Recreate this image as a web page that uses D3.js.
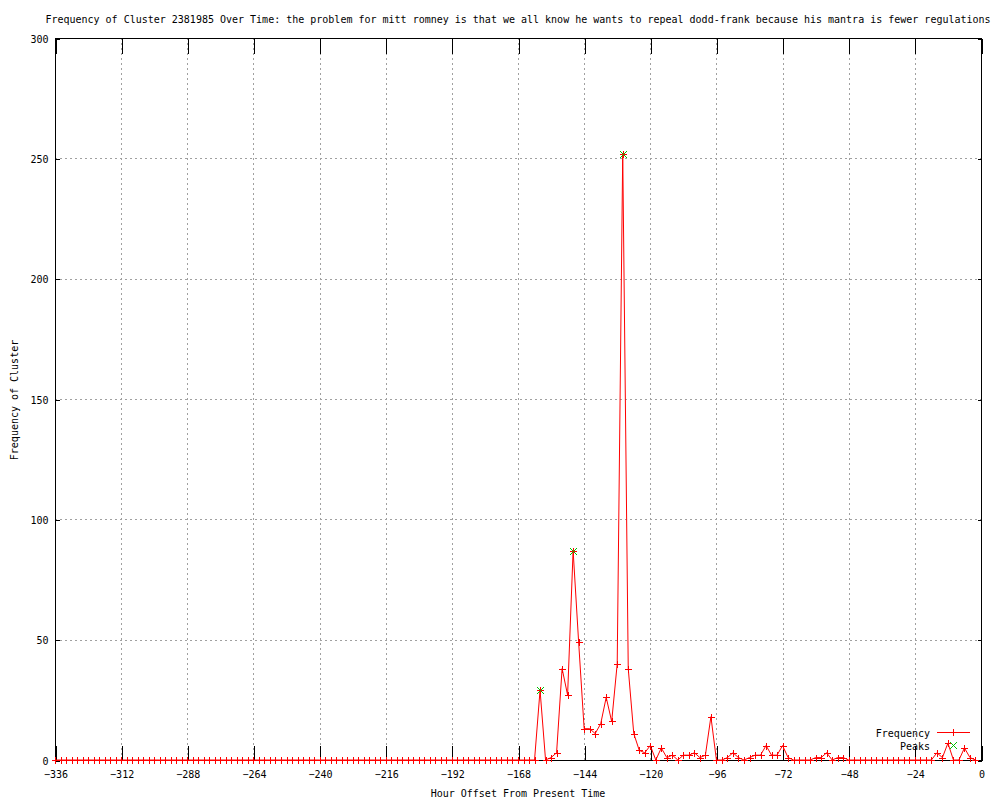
<!DOCTYPE html>
<html>
<head>
<meta charset="utf-8">
<script src="https://cdn.jsdelivr.net/npm/d3@7"></script>
<style>
  html, body { margin: 0; padding: 0; background: #fff; }
  svg { display: block; }
  text { font-family: "DejaVu Sans Mono", "Liberation Mono", monospace; font-size: 10px; fill: #000; }
</style>
</head>
<body>
<svg id="chart" width="1000" height="800"></svg>
<script>
const titleText = "Frequency of Cluster 2381985 Over Time: the problem for mitt romney is that we all know he wants to repeal dodd-frank because his mantra is fewer regulations";
const xAxisTitle = "Hour Offset From Present Time";
const yAxisTitle = "Frequency of Cluster";
const seriesNames = ["Frequency", "Peaks"];

// x ticks and y ticks
const xTicks = [-336, -312, -288, -264, -240, -216, -192, -168, -144, -120, -96, -72, -48, -24, 0];
const yTicks = [0, 50, 100, 150, 200, 250, 300];

// hour offsets (every 2 hours)
const hours = d3.range(-336, 0, 2);

// frequency values, one per hour offset above (-336 ... -2)
const frequency = [
  0,0,0,0,0,0,0,0,0,0,   // -336 .. -318
  0,0,0,0,0,0,0,0,0,0,   // -316 .. -298
  0,0,0,0,0,0,0,0,0,0,   // -296 .. -278
  0,0,0,0,0,0,0,0,0,0,   // -276 .. -258
  0,0,0,0,0,0,0,0,0,0,   // -256 .. -238
  0,0,0,0,0,0,0,0,0,0,   // -236 .. -218
  0,0,0,0,0,0,0,0,0,0,   // -216 .. -198
  0,0,0,0,0,0,0,0,0,0,   // -196 .. -178
  0,0,0,0,0,0,0,0,       // -176 .. -162
  29,0,1,3,38,27,87,49,13,13,   // -160 .. -142
  11,15,26,16,40,252,38,11,4,3, // -140 .. -122
  6,0,5,1,2,0,2,2,3,1,          // -120 .. -102
  2,18,0,0,1,3,1,0,1,2,         // -100 .. -82
  2,6,2,2,6,1,0,0,0,0,          // -80 .. -62
  1,1,3,0,1,1,0,0,0,0,          // -60 .. -42
  0,0,0,0,0,0,0,0,0,0,          // -40 .. -22
  0,0,3,1,7,0,0,5,1,0           // -20 .. -2
];

// detected peaks
const peakHours = [-160, -148, -130];
const peakValues = [29, 87, 252];

const svg = d3.select("#chart");
const L = 55, R = 981, T = 38, B = 760;

const x = d3.scaleLinear().domain([-336, 0]).range([L, R]);
const y = d3.scaleLinear().domain([0, 300]).range([B, T]);

const px = v => Math.round(v) + 0.5;

// grid
const grid = svg.append("g").attr("shape-rendering", "crispEdges")
  .attr("stroke", "#a0a0a0").attr("stroke-dasharray", "2,3").attr("stroke-width", 1);
grid.selectAll("line.gx").data(xTicks.slice(1, -1)).enter().append("line")
  .attr("x1", d => px(x(d))).attr("x2", d => px(x(d)))
  .attr("y1", T).attr("y2", B);
grid.selectAll("line.gy").data(yTicks.slice(1, -1)).enter().append("line")
  .attr("x1", L).attr("x2", R)
  .attr("y1", d => px(y(d))).attr("y2", d => px(y(d)));

// axes using d3 axis generators (inner ticks)
const xAxisBottom = d3.axisBottom(x).tickValues(xTicks).tickSizeInner(-15).tickSizeOuter(0).tickFormat(d3.format("d"));
const xAxisTop = d3.axisTop(x).tickValues(xTicks).tickSizeInner(-15).tickSizeOuter(0).tickFormat("");
const yAxisLeft = d3.axisLeft(y).tickValues(yTicks).tickSizeInner(-4).tickSizeOuter(0).tickFormat(d3.format("d"));
const yAxisRight = d3.axisRight(y).tickValues(yTicks).tickSizeInner(-4).tickSizeOuter(0).tickFormat("");

function styleAxis(g) {
  g.attr("shape-rendering", "crispEdges");
  g.select(".domain").remove();
  g.selectAll("line").attr("stroke", "#000");
  g.selectAll("text").attr("font-family", "DejaVu Sans Mono").attr("font-size", "10px").attr("fill", "#000");
}

const gxb = svg.append("g").attr("transform", `translate(0.5,${B + 0.5})`).call(xAxisBottom).call(styleAxis);
gxb.selectAll("text").attr("y", 0).attr("dy", "0").attr("transform", "translate(0,17)");
svg.append("g").attr("transform", `translate(0.5,${T + 0.5})`).call(xAxisTop).call(styleAxis);
const gyl = svg.append("g").attr("transform", `translate(${L + 0.5},0.5)`).call(yAxisLeft).call(styleAxis);
gyl.selectAll("text").attr("x", -7).attr("dy", "0.35em");
svg.append("g").attr("transform", `translate(${R + 0.5},0.5)`).call(yAxisRight).call(styleAxis);

// frame
svg.append("rect").attr("x", L + 0.5).attr("y", T + 0.5).attr("width", R - L).attr("height", B - T)
  .attr("fill", "none").attr("stroke", "#000").attr("stroke-width", 1).attr("shape-rendering", "crispEdges");

// data
const data = hours.map((h, i) => ({ h, v: frequency[i] }));
const peaks = peakHours.map((h, i) => ({ h, v: peakValues[i] }));

const line = d3.line().x(d => x(d.h)).y(d => y(d.v));
svg.append("path").datum(data).attr("d", line)
  .attr("fill", "none").attr("stroke", "#ff0000").attr("stroke-width", 1);

const S = 3.5;
function plusPath(cx, cy) {
  cx = Math.round(cx) + 0.5; cy = Math.round(cy) + 0.5;
  return `M${cx - S},${cy}H${cx + S}M${cx},${cy - S}V${cy + S}`;
}
function crossPath(cx, cy) {
  cx = Math.round(cx) + 0.5; cy = Math.round(cy) + 0.5;
  return `M${cx - S},${cy - S}L${cx + S},${cy + S}M${cx - S},${cy + S}L${cx + S},${cy - S}`;
}

svg.append("g").selectAll("path").data(data).enter().append("path")
  .attr("d", d => plusPath(x(d.h), y(d.v)))
  .attr("stroke", "#ff0000").attr("stroke-width", 1).attr("fill", "none");

svg.append("g").selectAll("path").data(peaks).enter().append("path")
  .attr("d", d => crossPath(x(d.h), y(d.v)))
  .attr("stroke", "#00c000").attr("stroke-width", 1).attr("fill", "none");

// legend
const lg = svg.append("g");
lg.append("text").attr("x", 930).attr("y", 733).attr("dy", "0.35em").attr("text-anchor", "end").text(seriesNames[0]);
lg.append("line").attr("x1", 937).attr("x2", 970).attr("y1", 732.5).attr("y2", 732.5)
  .attr("stroke", "#ff0000").attr("stroke-width", 1).attr("shape-rendering", "crispEdges");
lg.append("path").attr("d", plusPath(953, 732)).attr("stroke", "#ff0000").attr("fill", "none");
lg.append("text").attr("x", 930).attr("y", 746).attr("dy", "0.35em").attr("text-anchor", "end").text(seriesNames[1]);
lg.append("path").attr("d", crossPath(953, 745)).attr("stroke", "#00c000").attr("fill", "none");

// titles
svg.append("text").attr("x", (L + R) / 2).attr("y", 19).attr("dy", "0.35em").attr("text-anchor", "middle").text(titleText);
svg.append("text").attr("x", (L + R) / 2).attr("y", 793).attr("dy", "0.35em").attr("text-anchor", "middle").text(xAxisTitle);
svg.append("text").attr("transform", "translate(14,400) rotate(-90)").attr("dy", "0.35em").attr("text-anchor", "middle").text(yAxisTitle);
</script>
</body>
</html>
